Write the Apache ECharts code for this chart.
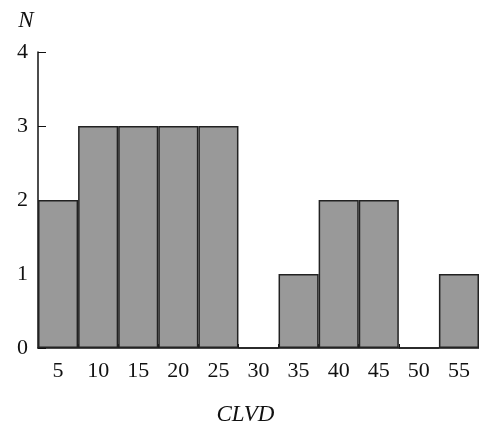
<!DOCTYPE html>
<html>
<head>
<meta charset="utf-8">
<script src="https://cdn.jsdelivr.net/npm/echarts@6/dist/echarts.min.js"></script>
<style>
  html, body { margin: 0; padding: 0; background: #fff; }
  #chart { width: 479px; height: 431px; }
</style>
</head>
<body>
<div id="chart"></div>
<script>
// CLVD classes and counts
var clvd = ['5', '10', '15', '20', '25', '30', '35', '40', '45', '50', '55'];
var counts = [2, 3, 3, 3, 3, 0, 1, 2, 2, 0, 1];
var yTicks = [0, 1, 2, 3, 4];

var serif = 'Liberation Serif, Times New Roman, Times, serif';

var chart = echarts.init(document.getElementById('chart'));
chart.setOption({
  animation: false,
  grid: { left: 38, top: 52, width: 442, height: 308, containLabel: false },
  xAxis: {
    type: 'category',
    data: clvd,
    name: 'CLVD',
    nameLocation: 'middle',
    nameGap: 55,
    nameTextStyle: { fontFamily: serif, fontStyle: 'italic', fontSize: 23, color: '#111', padding: [0, 26, 0, 0] },
    axisLine: { lineStyle: { color: '#111', width: 1.5 } },
    axisTick: { show: true, inside: true, length: 4, lineStyle: { color: '#111' } },
    axisLabel: { fontFamily: serif, fontSize: 22, color: '#111', margin: 12 },
    splitLine: { show: false }
  },
  yAxis: {
    type: 'value',
    min: yTicks[0],
    max: yTicks[yTicks.length - 1],
    interval: 1,
    name: 'N',
    nameLocation: 'end',
    nameGap: 20,
    nameTextStyle: { fontFamily: serif, fontStyle: 'italic', fontSize: 23, color: '#111', padding: [0, 24, 0, 0] },
    axisLine: { show: true, lineStyle: { color: '#111', width: 1.5 } },
    axisTick: { show: true, inside: true, length: 8, lineStyle: { color: '#111' } },
    axisLabel: { fontFamily: serif, fontSize: 22, color: '#111', margin: 10 },
    splitLine: { show: false }
  },
  series: [{
    type: 'bar',
    data: counts,
    barCategoryGap: 0,
    itemStyle: { color: '#999999', borderColor: '#222', borderWidth: 1.5 }
  }]
});
</script>
</body>
</html>
